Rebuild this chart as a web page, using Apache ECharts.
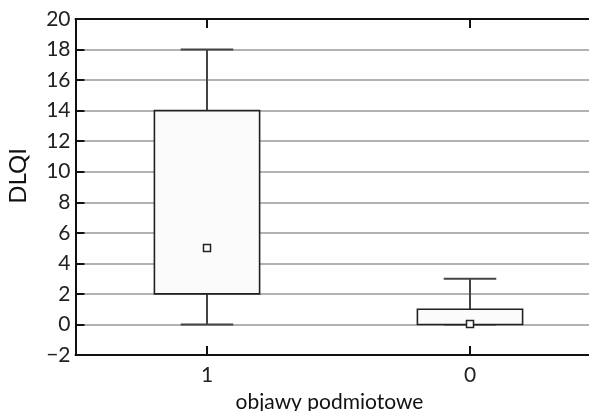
<!DOCTYPE html>
<html>
<head>
<meta charset="utf-8">
<script src="https://cdn.jsdelivr.net/npm/echarts@6/dist/echarts.min.js"></script>
<style>
html,body{margin:0;padding:0;background:#fff;}
#chart{width:589px;height:411px;}
</style>
</head>
<body>
<div id="chart"></div>
<script>
var categories = ['1', '0'];
var whiskerLow = [0, 0];
var q1 = [2, 0];
var median = [5, 0];
var q3 = [14, 1];
var whiskerHigh = [18, 3];
var yTicks = { min: -2, max: 20, interval: 2 };
var xTitle = 'objawy podmiotowe';
var yTitle = 'DLQI';

var FONT = 'Lato';
var data = categories.map(function (c, i) {
  return [i, whiskerLow[i], q1[i], median[i], q3[i], whiskerHigh[i]];
});

var chart = echarts.init(document.getElementById('chart'), null, { renderer: 'canvas' });

function renderBox(params, api) {
  var idx = api.value(0);
  var pMin = api.coord([idx, api.value(1)]);
  var pQ1 = api.coord([idx, api.value(2)]);
  var pMed = api.coord([idx, api.value(3)]);
  var pQ3 = api.coord([idx, api.value(4)]);
  var pMax = api.coord([idx, api.value(5)]);
  var band = api.size([1, 0])[0];
  var boxW = band * 0.4;
  var capW = band * 0.2;
  var x = pQ1[0];
  var whiskStyle = { stroke: '#444', lineWidth: 2 };
  var children = [
    { type: 'line', shape: { x1: x, y1: pQ3[1], x2: x, y2: pMax[1] }, style: whiskStyle },
    { type: 'line', shape: { x1: x, y1: pQ1[1], x2: x, y2: pMin[1] }, style: whiskStyle },
    { type: 'line', shape: { x1: x - capW / 2, y1: pMax[1], x2: x + capW / 2, y2: pMax[1] }, style: whiskStyle },
    { type: 'line', shape: { x1: x - capW / 2, y1: pMin[1], x2: x + capW / 2, y2: pMin[1] }, style: whiskStyle },
    { type: 'rect', shape: { x: x - boxW / 2, y: pQ3[1], width: boxW, height: pQ1[1] - pQ3[1] },
      style: { fill: '#fbfbfb', stroke: '#222', lineWidth: 1.6 } },
    { type: 'rect', shape: { x: Math.round(x) - 3.5, y: Math.round(pMed[1]) - 3.5, width: 7, height: 7 },
      style: { fill: '#fff', stroke: '#222', lineWidth: 1.5 } }
  ];
  return { type: 'group', children: children };
}

var option = {
  animation: false,
  backgroundColor: '#fff',
  grid: { left: 75.5, top: 19, width: 526, height: 336, containLabel: false, outerBoundsMode: 'none' },
  xAxis: [{
    type: 'category',
    data: categories,
    position: 'bottom',
    boundaryGap: true,
    axisLine: { show: true, onZero: false, lineStyle: { color: '#111', width: 2 } },
    axisTick: { show: true, inside: true, alignWithLabel: true, length: 9, lineStyle: { color: '#111', width: 2 } },
    axisLabel: { fontFamily: FONT, fontSize: 21, color: '#222', margin: 10 },
    splitLine: { show: false },
    name: xTitle,
    nameLocation: 'middle',
    nameGap: 37,
    nameTextStyle: { fontFamily: FONT, fontSize: 21, color: '#111', padding: [0, 18, 0, 0] }
  }, {
    type: 'category',
    data: categories,
    position: 'top',
    boundaryGap: true,
    axisLine: { show: true, onZero: false, lineStyle: { color: '#111', width: 2 } },
    axisTick: { show: true, inside: true, alignWithLabel: true, length: 9, lineStyle: { color: '#111', width: 2 } },
    axisLabel: { show: false },
    splitLine: { show: false }
  }],
  yAxis: {
    type: 'value',
    min: yTicks.min,
    max: yTicks.max,
    interval: yTicks.interval,
    axisLine: { show: true, lineStyle: { color: '#111', width: 2 } },
    axisTick: { show: true, inside: true, length: 9, lineStyle: { color: '#111', width: 2 } },
    axisLabel: {
      fontFamily: FONT, fontSize: 21, color: '#222', margin: 5,
      formatter: function (v) { return v < 0 ? '\u2212' + Math.abs(v) : String(v); }
    },
    splitLine: { show: true, lineStyle: { color: '#999', width: 1.5 } },
    name: yTitle,
    nameLocation: 'middle',
    nameRotate: 90,
    nameGap: 45,
    nameTextStyle: { fontFamily: FONT, fontSize: 24, color: '#111', padding: [0, 0, 0, 22] }
  },
  series: [{
    type: 'custom',
    xAxisIndex: 0,
    renderItem: renderBox,
    encode: { x: 0, y: [1, 2, 3, 4, 5] },
    data: data,
    z: 5
  }]
};
chart.setOption(option);
</script>
</body>
</html>
